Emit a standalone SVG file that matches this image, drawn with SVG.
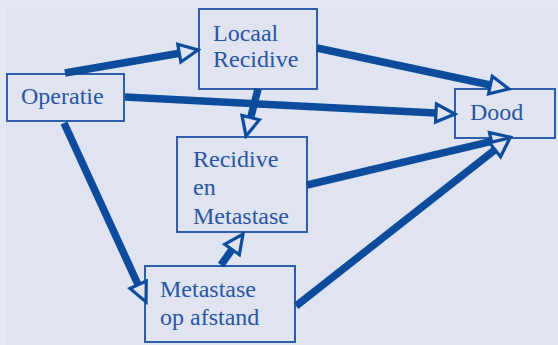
<svg xmlns="http://www.w3.org/2000/svg" width="558" height="345" viewBox="0 0 558 345">
<defs>
<style>
.box{fill:#dfe4f0;stroke:#2f5fa9;stroke-width:2}
.lbl{font-size:24px;fill:#2a55a2}
.cn{stroke:#0d4c9c;stroke-width:7.5;fill:none;marker-end:url(#ah)}
</style>
<marker id="ah" viewBox="0 0 24 24" markerWidth="24" markerHeight="24" markerUnits="userSpaceOnUse" refX="2" refY="12" orient="auto">
<path d="M2,3 L21,12 L2,21 Z" fill="#dfe4f0" stroke="#0d4c9c" stroke-width="3.2" stroke-linejoin="miter"/>
</marker>
</defs>
<rect x="0" y="0" width="558" height="345" fill="#e3e7f2"/>
<rect x="6" y="8" width="552" height="337" fill="#dfe4f0"/>
<g font-family="'Liberation Serif', 'Times New Roman', serif">
<g id="node-operatie"><rect class="box" x="7" y="74" width="117" height="47"/><text class="lbl" x="21" y="104">Operatie</text></g>
<g id="node-locaal"><rect class="box" x="199" y="9" width="118" height="80"/><text class="lbl" x="213" y="41">Locaal</text><text class="lbl" x="213" y="67">Recidive</text></g>
<g id="node-dood"><rect class="box" x="455" y="89" width="100" height="49"/><text class="lbl" x="470" y="120">Dood</text></g>
<g id="node-recmet"><rect class="box" x="177" y="137" width="130" height="95"/><text class="lbl" x="193" y="167">Recidive</text><text class="lbl" x="193" y="195">en</text><text class="lbl" x="193" y="224">Metastase</text></g>
<g id="node-metafstand"><rect class="box" x="145" y="266" width="150" height="76"/><text class="lbl" x="160" y="297">Metastase</text><text class="lbl" x="160" y="325">op afstand</text></g>
</g>
<g id="connectors">
<line class="cn" x1="65" y1="73" x2="179.3" y2="53.2"/>
<line class="cn" x1="317" y1="48" x2="490.4" y2="85"/>
<line class="cn" x1="125" y1="97" x2="436" y2="113"/>
<line class="cn" x1="258" y1="89" x2="250.7" y2="117.6"/>
<line class="cn" x1="307" y1="185" x2="491.5" y2="141.4"/>
<line class="cn" x1="296" y1="306" x2="495" y2="149.7"/>
<line class="cn" x1="221" y1="265" x2="232" y2="249.5"/>
<line class="cn" x1="64" y1="123" x2="138.1" y2="284.7"/>
</g>
</svg>
